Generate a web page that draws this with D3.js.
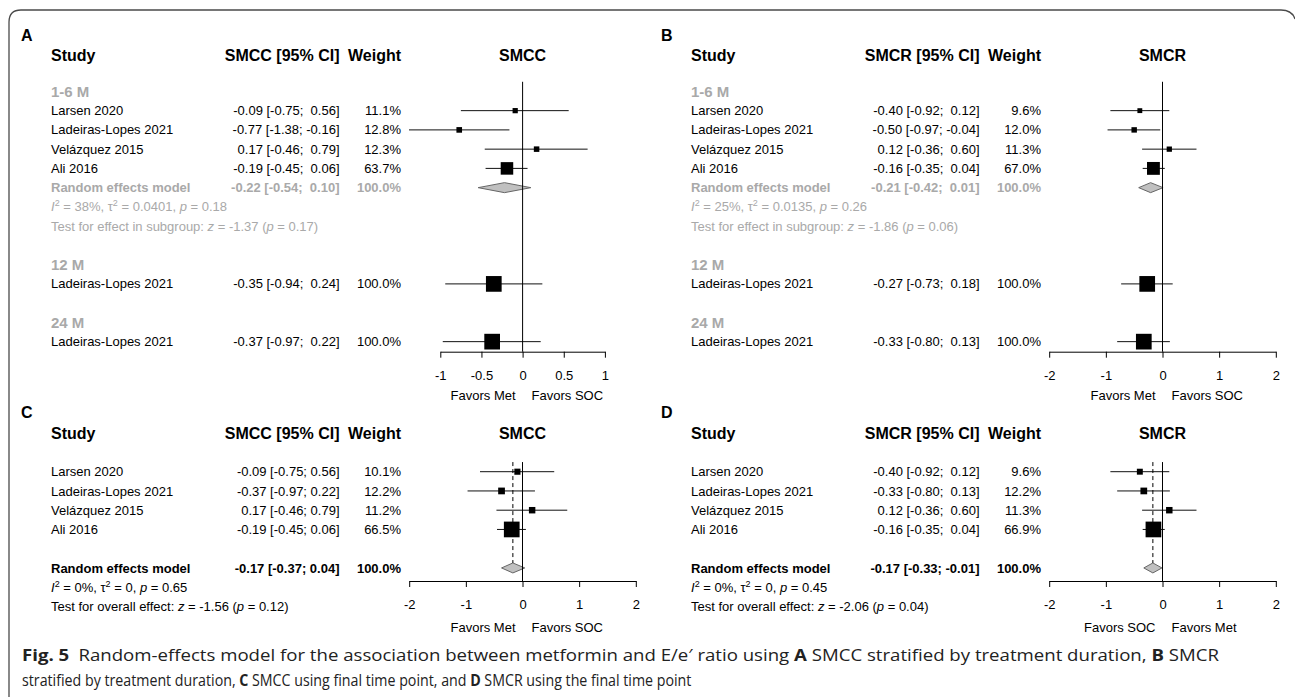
<!DOCTYPE html>
<html><head><meta charset="utf-8">
<script src="https://cdn.jsdelivr.net/npm/d3@7"></script>
<style>
body{margin:0;background:#fff}
svg text{font-family:"Liberation Sans",Arial,Helvetica,sans-serif}
</style>
</head><body>
<svg id="c" width="1295" height="697"></svg>
<script>
// ---------- data ----------
const studies = ["Larsen 2020", "Ladeiras-Lopes 2021", "Velázquez 2015", "Ali 2016"];
const subgroups = ["1-6 M", "12 M", "24 M"];
const singleStudy = "Ladeiras-Lopes 2021";

// Panel A: SMCC by duration
const aEst = [-0.09, -0.77, 0.17, -0.19];
const aLo  = [-0.75, -1.38, -0.46, -0.45];
const aHi  = [0.56, -0.16, 0.79, 0.06];
const aW   = [11.1, 12.8, 12.3, 63.7];
const aRE  = [-0.22, -0.54, 0.10];
const a12  = [-0.35, -0.94, 0.24];
const a24  = [-0.37, -0.97, 0.22];
const aHet = ["38%", "0.0401", "0.18"];
const aTest = ["-1.37", "0.17"];

// Panel B: SMCR by duration
const bEst = [-0.40, -0.50, 0.12, -0.16];
const bLo  = [-0.92, -0.97, -0.36, -0.35];
const bHi  = [0.12, -0.04, 0.60, 0.04];
const bW   = [9.6, 12.0, 11.3, 67.0];
const bRE  = [-0.21, -0.42, 0.01];
const b12  = [-0.27, -0.73, 0.18];
const b24  = [-0.33, -0.80, 0.13];
const bHet = ["25%", "0.0135", "0.26"];
const bTest = ["-1.86", "0.06"];

// Panel C: SMCC final time point
const cEst = [-0.09, -0.37, 0.17, -0.19];
const cLo  = [-0.75, -0.97, -0.46, -0.45];
const cHi  = [0.56, 0.22, 0.79, 0.06];
const cW   = [10.1, 12.2, 11.2, 66.5];
const cRE  = [-0.17, -0.37, 0.04];
const cHet = ["0%", "0", "0.65"];
const cTest = ["-1.56", "0.12"];

// Panel D: SMCR final time point
const dEst = [-0.40, -0.33, 0.12, -0.16];
const dLo  = [-0.92, -0.80, -0.36, -0.35];
const dHi  = [0.12, 0.13, 0.60, 0.04];
const dW   = [9.6, 12.2, 11.3, 66.9];
const dRE  = [-0.17, -0.33, -0.01];
const dHet = ["0%", "0", "0.45"];
const dTest = ["-2.06", "0.04"];

const ticksNarrow = [-1, -0.5, 0, 0.5, 1];
const ticksWide = [-2, -1, 0, 1, 2];
const favorsMetSoc = ["Favors Met", "Favors SOC"];
const favorsSocMet = ["Favors SOC", "Favors Met"];

// ---------- drawing ----------
const svg = d3.select("#c");
const GRAY = "#a9a9a9";
const NB = "\u00A0";

// frame
svg.append("path")
  .attr("d", "M9,697 L9,22 Q9,10 21,10 L1281,10 Q1292,10 1295,19")
  .attr("fill", "none").attr("stroke", "#4a4a4a").attr("stroke-width", 1.3);

function txt(g, x, y, s, o = {}) {
  const fs = o.fs || 13;
  const t = g.append("text")
    .attr("x", x).attr("y", y + 0.35 * fs)
    .attr("font-size", fs)
    .attr("text-anchor", o.anchor || "start")
    .attr("font-weight", o.bold ? "bold" : "normal")
    .attr("fill", o.color || "#000");
  if (s !== null) t.text(s);
  return t;
}

function hetLine(g, x, y, het, color) {
  const t = txt(g, x, y, null, {color});
  t.append("tspan").attr("font-style", "italic").text("I");
  t.append("tspan").attr("font-size", 9).attr("dy", -5).text("2");
  t.append("tspan").attr("dy", 5).text(" = " + het[0] + ", τ");
  t.append("tspan").attr("font-size", 9).attr("dy", -5).text("2");
  t.append("tspan").attr("dy", 5).text(" = " + het[1] + ", ");
  t.append("tspan").attr("font-style", "italic").text("p");
  t.append("tspan").text(" = " + het[2]);
}
function testLine(g, x, y, prefix, test, color) {
  const t = txt(g, x, y, null, {color});
  t.append("tspan").text(prefix + ": ");
  t.append("tspan").attr("font-style", "italic").text("z");
  t.append("tspan").text(" = " + test[0] + " (");
  t.append("tspan").attr("font-style", "italic").text("p");
  t.append("tspan").text(" = " + test[1] + ")");
}

function panel(cfg) {
  const g = svg.append("g").attr("transform", `translate(${cfg.ox},0)`);
  const x = d3.scaleLinear().domain(cfg.domain).range(cfg.range);
  const X0 = x(0);

  const his = [];
  cfg.rows.forEach(r => { if (r.hi !== undefined) his.push(r.hi); });
  const hiLen = d3.max(his, v => v.toFixed(2).length);
  const ci = r => r.est.toFixed(2) + " [" + r.lo.toFixed(2) + "; " +
    NB.repeat(hiLen - r.hi.toFixed(2).length) + r.hi.toFixed(2) + "]";

  txt(g, 21, cfg.letterY, cfg.letter, {bold: true, fs: 16});
  txt(g, 51, cfg.headY, "Study", {bold: true, fs: 16});
  txt(g, 339.5, cfg.headY, cfg.measure + " [95% CI]", {bold: true, fs: 16, anchor: "end"});
  txt(g, 401, cfg.headY, "Weight", {bold: true, fs: 16, anchor: "end"});
  txt(g, X0, cfg.headY, cfg.measure, {bold: true, fs: 16, anchor: "middle"});

  const wmax = d3.max(cfg.rows.filter(r => r.kind === "study"), r => r.w);

  cfg.rows.forEach(r => {
    if (r.kind === "sub") {
      txt(g, 51, r.y, r.label, {bold: true, fs: 15, color: GRAY});
    } else if (r.kind === "study") {
      txt(g, 51, r.y, r.label);
      txt(g, 339.5, r.y, ci(r), {anchor: "end"});
      txt(g, 401, r.y, r.w.toFixed(1) + "%", {anchor: "end"});
      g.append("line").attr("x1", x(r.lo)).attr("x2", x(r.hi))
        .attr("y1", r.y).attr("y2", r.y).attr("stroke", "#111").attr("stroke-width", 1);
      const s = 15.7 * Math.sqrt(r.w / wmax);
      g.append("rect").attr("x", x(r.est) - s / 2).attr("y", r.y - s / 2)
        .attr("width", s).attr("height", s).attr("fill", "#000");
    } else if (r.kind === "re") {
      const col = r.gray ? GRAY : "#000";
      txt(g, 51, r.y, "Random effects model", {bold: true, color: col});
      txt(g, 339.5, r.y, ci(r), {bold: true, color: col, anchor: "end"});
      txt(g, 401, r.y, "100.0%", {bold: true, color: col, anchor: "end"});
      const h = 5;
      g.append("path")
        .attr("d", `M${x(r.lo)},${r.y} L${x(r.est)},${r.y - h} L${x(r.hi)},${r.y} L${x(r.est)},${r.y + h} Z`)
        .attr("fill", "#c0c0c0").attr("stroke", "#666").attr("stroke-width", 1);
      if (cfg.dashed) {
        g.append("line").attr("x1", x(r.est)).attr("x2", x(r.est))
          .attr("y1", cfg.lineTop).attr("y2", r.y - h)
          .attr("stroke", "#000").attr("stroke-dasharray", "4,3").attr("stroke-width", 1);
      }
    } else if (r.kind === "het") {
      hetLine(g, 51, r.y, r.het, r.gray ? GRAY : "#000");
    } else if (r.kind === "test") {
      testLine(g, 51, r.y, r.prefix, r.test, r.gray ? GRAY : "#000");
    }
  });

  g.append("line").attr("x1", X0).attr("x2", X0)
    .attr("y1", cfg.lineTop).attr("y2", cfg.axisY).attr("stroke", "#000").attr("stroke-width", 1);

  const ax = g.append("g").attr("transform", `translate(0,${cfg.axisY})`)
    .call(d3.axisBottom(x).tickValues(cfg.ticks).tickSize(6).tickSizeOuter(0)
      .tickPadding(13).tickFormat(d => String(d)));
  ax.attr("font-family", null).attr("font-size", 13);
  ax.selectAll("path,line").attr("stroke", "#000");
  ax.selectAll("text").attr("fill", "#000");

  txt(g, X0 - 7, cfg.favY, cfg.favors[0], {anchor: "end"});
  txt(g, X0 + 9, cfg.favY, cfg.favors[1], {anchor: "start"});
}

const rowTop = r => 52.9 + 19.25 * r;
const rowBot = r => 433.2 + 19.25 * r;

function subgroupRows(est, lo, hi, w, re, m12, m24, het, test) {
  const rows = [{kind: "sub", label: subgroups[0], y: rowTop(2)}];
  studies.forEach((s, i) => rows.push({kind: "study", label: s, est: est[i], lo: lo[i], hi: hi[i], w: w[i], y: rowTop(3 + i)}));
  rows.push({kind: "re", est: re[0], lo: re[1], hi: re[2], gray: true, y: rowTop(7)});
  rows.push({kind: "het", het, gray: true, y: rowTop(8)});
  rows.push({kind: "test", prefix: "Test for effect in subgroup", test, gray: true, y: rowTop(9)});
  rows.push({kind: "sub", label: subgroups[1], y: rowTop(11)});
  rows.push({kind: "study", label: singleStudy, est: m12[0], lo: m12[1], hi: m12[2], w: 100, y: rowTop(12)});
  rows.push({kind: "sub", label: subgroups[2], y: rowTop(14)});
  rows.push({kind: "study", label: singleStudy, est: m24[0], lo: m24[1], hi: m24[2], w: 100, y: rowTop(15)});
  return rows;
}
function overallRows(est, lo, hi, w, re, het, test) {
  const rows = [];
  studies.forEach((s, i) => rows.push({kind: "study", label: s, est: est[i], lo: lo[i], hi: hi[i], w: w[i], y: rowBot(2 + i)}));
  rows.push({kind: "re", est: re[0], lo: re[1], hi: re[2], gray: false, y: rowBot(7)});
  rows.push({kind: "het", het, gray: false, y: rowBot(8)});
  rows.push({kind: "test", prefix: "Test for overall effect", test, gray: false, y: rowBot(9)});
  return rows;
}

const topCommon = {letterY: 35, headY: 55, lineTop: rowTop(1.5), axisY: 351.7, favY: 395};
const botCommon = {letterY: 412, headY: 433, lineTop: rowBot(1.5), axisY: 581, favY: 627, dashed: true};
const wideRange = [409.2, 635.8];

panel(Object.assign({ox: 0, letter: "A", measure: "SMCC", domain: [-1, 1], range: [440.3, 604.9],
  ticks: ticksNarrow, favors: favorsMetSoc,
  rows: subgroupRows(aEst, aLo, aHi, aW, aRE, a12, a24, aHet, aTest)}, topCommon));
panel(Object.assign({ox: 640, letter: "B", measure: "SMCR", domain: [-2, 2], range: wideRange,
  ticks: ticksWide, favors: favorsMetSoc,
  rows: subgroupRows(bEst, bLo, bHi, bW, bRE, b12, b24, bHet, bTest)}, topCommon));
panel(Object.assign({ox: 0, letter: "C", measure: "SMCC", domain: [-2, 2], range: wideRange,
  ticks: ticksWide, favors: favorsMetSoc,
  rows: overallRows(cEst, cLo, cHi, cW, cRE, cHet, cTest)}, botCommon));
panel(Object.assign({ox: 640, letter: "D", measure: "SMCR", domain: [-2, 2], range: wideRange,
  ticks: ticksWide, favors: favorsSocMet,
  rows: overallRows(dEst, dLo, dHi, dW, dRE, dHet, dTest)}, botCommon));

// caption: each line fitted to its extent in the reference (condensed face)
const capFont = '"Open Sans","Noto Sans",sans-serif';
const capParts1 = [["Fig. 5", 1], ["\u2002Random-effects model for the association between metformin and E/e\u2032 ratio using ", 0],
  ["A", 1], [" SMCC stratified by treatment duration, ", 0], ["B", 1], [" SMCR", 0]];
const capParts2 = [["stratified by treatment duration, ", 0], ["C", 1], [" SMCC using final time point, and ", 0],
  ["D", 1], [" SMCR using the final time point", 0]];
function capLine(parts, y, targetLen) {
  const t = svg.append("text").attr("x", 0).attr("y", 0).attr("font-size", 16.5)
    .style("font-family", capFont).attr("fill", "#222");
  parts.forEach(p => t.append("tspan").attr("font-weight", p[1] ? "bold" : "normal").text(p[0]));
  const L = t.node().getComputedTextLength();
  t.attr("transform", `translate(22,${y + 6}) scale(${targetLen / L},1)`);
  return t;
}
capLine(capParts1, 655, 1198);
capLine(capParts2, 680, 670);
</script>
</body></html>
